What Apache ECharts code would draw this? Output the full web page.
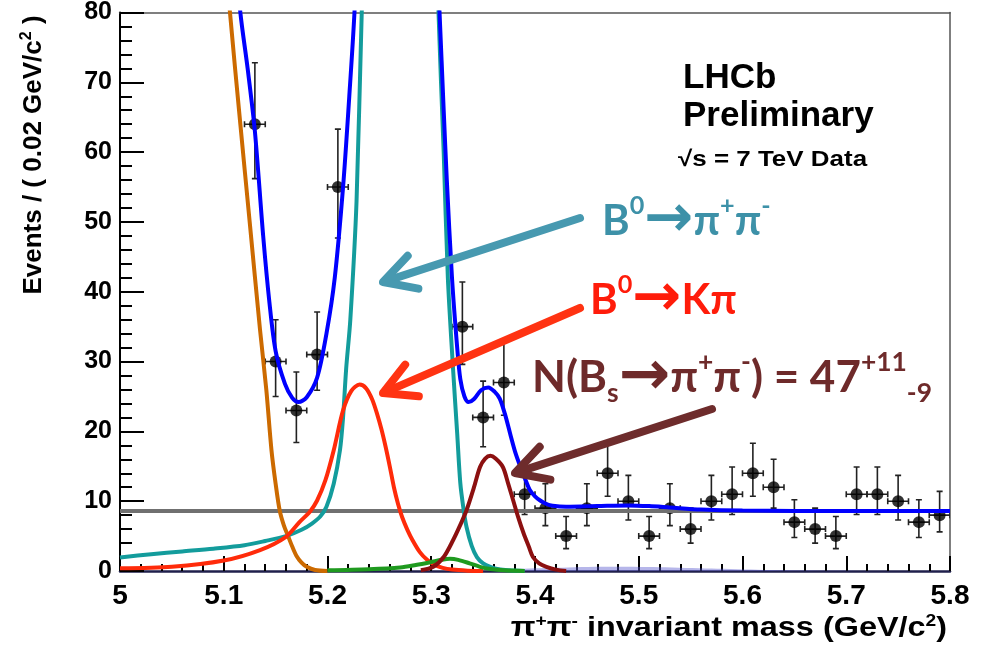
<!DOCTYPE html>
<html>
<head>
<meta charset="utf-8">
<title>pi+pi- invariant mass</title>
<script src="https://cdn.jsdelivr.net/npm/echarts@6/dist/echarts.min.js"></script>
<style>
  html, body { margin: 0; padding: 0; background: #fff; }
  #chart { width: 987px; height: 645px; }
</style>
</head>
<body>
<div id="chart"></div>
<script>
// data points: bin centres (GeV/c^2), counts and poisson errors
const binCenters = [5.13, 5.15, 5.17, 5.19, 5.21, 5.33, 5.35, 5.37, 5.39, 5.41,
                    5.43, 5.45, 5.47, 5.49, 5.51, 5.53, 5.55, 5.57, 5.59, 5.61,
                    5.63, 5.65, 5.67, 5.69, 5.71, 5.73, 5.75, 5.77, 5.79];
const counts  = [64, 30, 23, 31, 55, 35, 22, 27, 11, 9, 5, 9, 14, 10, 5, 9, 6, 10, 11, 14, 12, 7, 6, 5, 11, 11, 10, 7, 8];
const errUp   = [8.8, 6.0, 5.5, 6.1, 8.3, 6.4, 5.2, 5.7, 3.9, 3.5, 2.8, 3.5, 4.3, 3.7, 2.8, 3.5, 3.0, 3.7, 3.9, 4.3, 4.0, 3.2, 3.0, 2.8, 3.9, 3.9, 3.7, 3.2, 3.4];
const errDown = [7.8, 5.0, 4.6, 5.1, 7.3, 5.4, 4.2, 4.7, 2.9, 2.5, 1.8, 2.5, 3.3, 2.7, 1.8, 2.5, 2.0, 2.7, 2.9, 3.3, 3.0, 2.2, 2.0, 1.8, 2.9, 2.9, 2.7, 2.2, 2.4];
const binHalfWidth = 0.01;

// fit curves, [mass, events] (values above 80 are clipped by the frame)
const totalFit = [[5.100, 105], [5.116, 80], [5.123, 72], [5.130, 63], [5.138, 48], [5.144, 38.5],
  [5.150, 31.5], [5.159, 26.8], [5.166, 24.8], [5.172, 24.2], [5.180, 24.9], [5.190, 27.7],
  [5.199, 34], [5.207, 42], [5.215, 55], [5.221, 68], [5.226, 80], [5.232, 100], [5.300, 100],
  [5.305, 90], [5.308, 80], [5.312, 66], [5.315, 56], [5.320, 42], [5.325, 32], [5.328, 27.5],
  [5.332, 25], [5.336, 24.2], [5.341, 24.6], [5.348, 25.9], [5.355, 26.3], [5.361, 25.7],
  [5.366, 24.7], [5.371, 22.5], [5.376, 19.7], [5.381, 17], [5.386, 14.9], [5.391, 13],
  [5.395, 11.6], [5.400, 10.7], [5.405, 10.1], [5.411, 9.6], [5.417, 9.35], [5.43, 9.2],
  [5.46, 9.3], [5.49, 9.4], [5.51, 9.3], [5.53, 9.1], [5.56, 8.8], [5.60, 8.65], [5.70, 8.6], [5.80, 8.6]];
const partRecoFit = [[5.095, 100], [5.106, 80], [5.116, 64], [5.125, 50], [5.135, 34.5], [5.141, 26],
  [5.146, 17.3], [5.150, 12.5], [5.154, 8.6], [5.158, 6.5], [5.162, 5.0], [5.166, 3.5],
  [5.170, 2.2], [5.175, 1.2], [5.180, 0.6], [5.188, 0.15], [5.200, 0]];
const bdPiPiFit = [[5.00, 1.95], [5.03, 2.4], [5.06, 2.8], [5.09, 3.2], [5.12, 3.7], [5.14, 4.3],
  [5.16, 5.0], [5.175, 5.9], [5.185, 6.8], [5.193, 7.8], [5.199, 9.2], [5.206, 12.5], [5.212, 17.3],
  [5.215, 22], [5.218, 29], [5.222, 36], [5.228, 53], [5.233, 80], [5.238, 100], [5.300, 100],
  [5.305, 95], [5.307, 80], [5.312, 60], [5.316, 42], [5.321, 29], [5.325, 19.7], [5.328, 12.6],
  [5.331, 9], [5.334, 6.3], [5.339, 3.6], [5.344, 2.0], [5.350, 1.1], [5.357, 0.6], [5.365, 0.25],
  [5.375, 0.1], [5.390, 0]];
const bdKPiFit = [[5.00, 0.38], [5.05, 0.6], [5.10, 1.5], [5.135, 3.0], [5.16, 4.9], [5.173, 7.0],
  [5.183, 8.5], [5.19, 10.1], [5.198, 13], [5.206, 17.3], [5.215, 23], [5.223, 25.8], [5.231, 26.7],
  [5.237, 26.2], [5.243, 24.6], [5.248, 22.4], [5.252, 20.3], [5.256, 17.8], [5.260, 15.0],
  [5.264, 12.0], [5.268, 9.6], [5.272, 7.7], [5.277, 5.9], [5.282, 4.4], [5.289, 2.7], [5.296, 1.6],
  [5.303, 0.9], [5.311, 0.45], [5.320, 0.2], [5.335, 0.05], [5.350, 0]];
const bsPiPiFit = [[5.29, 0.1], [5.302, 0.6], [5.312, 2.0], [5.321, 4.4], [5.328, 6.6], [5.334, 8.7],
  [5.341, 11.9], [5.347, 14.9], [5.352, 16.1], [5.357, 16.5], [5.362, 16.1], [5.369, 14.9],
  [5.374, 12.6], [5.379, 10.1], [5.384, 7.6], [5.389, 5.4], [5.394, 3.5], [5.398, 2.0],
  [5.404, 1.1], [5.411, 0.6], [5.42, 0.2], [5.43, 0]];
const otherFit = [[5.20, 0.1], [5.24, 0.25], [5.27, 0.5], [5.285, 0.85], [5.299, 1.25], [5.31, 1.6],
  [5.318, 1.75], [5.326, 1.6], [5.337, 1.1], [5.347, 0.6], [5.357, 0.3], [5.37, 0.1], [5.39, 0]];
const threeBodyFit = [[5.35, 0], [5.38, 0.25], [5.42, 0.45], [5.47, 0.6], [5.52, 0.55], [5.57, 0.35],
  [5.62, 0.15], [5.68, 0.05], [5.80, 0]];
const combFit = [[5.0, 8.6], [5.8, 8.6]];

const xTicks = { min: 5, max: 5.8, step: 0.1 };
const yTicks = { min: 0, max: 80, step: 10 };

const chart = echarts.init(document.getElementById('chart'));

function curve(data, color, extra) {
    return Object.assign({
        type: 'line',
        data: data,
        symbol: 'none',
        smooth: 0.3,
        clip: true,
        silent: true,
        lineStyle: { color: color, width: 4 }
    }, extra || {});
}

// open chevron arrow: shaft + head
function arrow(tail, tip, color) {
    const dx = tail[0] - tip[0], dy = tail[1] - tip[1];
    const len = Math.hypot(dx, dy);
    const ux = dx / len, uy = dy / len;
    const head = 36, a = 0.5;
    const arm = (ang) => [
        tip[0] + head * (ux * Math.cos(ang) - uy * Math.sin(ang)),
        tip[1] + head * (ux * Math.sin(ang) + uy * Math.cos(ang))
    ];
    return [
        { type: 'line', z: 100, shape: { x1: tail[0], y1: tail[1], x2: tip[0] + ux * 3, y2: tip[1] + uy * 3 },
          style: { stroke: color, lineWidth: 8, lineCap: 'round' } },
        { type: 'polyline', z: 100, shape: { points: [arm(a), tip, arm(-a)] },
          style: { stroke: color, lineWidth: 8, lineCap: 'round', lineJoin: 'round', fill: 'none' } }
    ];
}

function richFor(color, size) {
    const base = { fontFamily: 'Lato', fontWeight: 'bold', fill: color };
    return {
        sup: Object.assign({ fontSize: size * 0.6, lineHeight: size * 0.55, verticalAlign: 'top' }, base),
        sub: Object.assign({ fontSize: size * 0.6, lineHeight: size * 0.55, verticalAlign: 'bottom' }, base),
        arr: Object.assign({}, base, { fontFamily: 'DejaVu Sans', fontSize: size * 1.4, lineHeight: size * 1.3 })
    };
}

function label(x, y, text, color, size) {
    return {
        type: 'text', z: 100, x: x, y: y,
        style: {
            text: text, fill: color, fontFamily: 'Lato', fontWeight: 'bold',
            fontSize: size, lineHeight: size * 1.3, align: 'left', verticalAlign: 'middle',
            rich: richFor(color, size)
        }
    };
}

const teal = '#3d91a8', red = '#ff1c0a', brown = '#6e2a2a';
const axisFont = 'Liberation Sans';
const supStyle = { fontFamily: axisFont, fontWeight: 'bold', fontSize: 16, lineHeight: 14, verticalAlign: 'top', fill: '#000' };

const option = {
    animation: false,
    backgroundColor: '#fff',
    grid: { left: 120, right: 37, top: 10, bottom: 74 },
    xAxis: [{
        type: 'value', min: xTicks.min, max: xTicks.max, interval: xTicks.step,
        axisLine: { show: true, onZero: false, lineStyle: { color: '#20204c', width: 2.5 } },
        axisTick: { show: true, inside: true, length: 15, lineStyle: { color: '#000', width: 2 } },
        minorTick: { show: true, splitNumber: 5, length: 7, lineStyle: { color: '#000', width: 2 } },
        splitLine: { show: false },
        axisLabel: { margin: 11, fontSize: 28, fontWeight: 'bold', color: '#000', fontFamily: axisFont,
                     formatter: v => String(+v.toFixed(1)) }
    }, {
        type: 'value', position: 'top', min: xTicks.min, max: xTicks.max,
        axisLine: { show: true, onZero: false, lineStyle: { color: '#555', width: 1.5 } },
        axisTick: { show: false }, axisLabel: { show: false }, splitLine: { show: false }
    }],
    yAxis: [{
        type: 'value', min: yTicks.min, max: yTicks.max, interval: yTicks.step,
        axisLine: { show: true, lineStyle: { color: '#000', width: 2 } },
        axisTick: { show: true, inside: true, length: 24, lineStyle: { color: '#000', width: 2 } },
        minorTick: { show: true, splitNumber: 5, length: 12, lineStyle: { color: '#000', width: 2 } },
        splitLine: { show: false },
        axisLabel: { margin: 8, fontSize: 25, fontWeight: 'bold', color: '#000', fontFamily: axisFont }
    }, {
        type: 'value', position: 'right', min: yTicks.min, max: yTicks.max,
        axisLine: { show: true, lineStyle: { color: '#555', width: 1.5 } },
        axisTick: { show: false }, axisLabel: { show: false }, splitLine: { show: false }
    }],
    series: [
        curve(threeBodyFit, 'rgba(70,70,200,0.6)', { lineStyle: { width: 0 }, areaStyle: { color: 'rgba(80,80,205,0.6)' } }),
        curve(combFit, '#707070', { smooth: false }),
        curve(partRecoFit, '#cc6a00'),
        curve(bdPiPiFit, '#139c9c'),
        curve(bdKPiFit, '#ff2b0a'),
        curve(otherFit, '#1f9a1f'),
        curve(bsPiPiFit, '#8c1010'),
        curve(totalFit, '#0000ff'),
        {
            type: 'custom',
            silent: true,
            clip: true,
            data: binCenters.map((x, i) => [x, counts[i], errUp[i], errDown[i]]),
            encode: { x: 0, y: 1 },
            renderItem: function (params, api) {
                const x = api.value(0), y = api.value(1);
                const top = api.coord([x, y + api.value(2)]);
                const bot = api.coord([x, y - api.value(3)]);
                const lft = api.coord([x - binHalfWidth, y]);
                const rgt = api.coord([x + binHalfWidth, y]);
                const st = { stroke: '#222', lineWidth: 1.6 };
                const seg = (x1, y1, x2, y2) => ({ type: 'line', shape: { x1, y1, x2, y2 }, style: st });
                return {
                    type: 'group',
                    children: [
                        seg(top[0], top[1], bot[0], bot[1]),
                        seg(top[0] - 3, top[1], top[0] + 3, top[1]),
                        seg(bot[0] - 3, bot[1], bot[0] + 3, bot[1]),
                        seg(lft[0], lft[1], rgt[0], rgt[1]),
                        seg(lft[0], lft[1] - 3, lft[0], lft[1] + 3),
                        seg(rgt[0], rgt[1] - 3, rgt[0], rgt[1] + 3)
                    ]
                };
            }
        },
        {
            type: 'scatter',
            silent: true,
            data: binCenters.map((x, i) => [x, counts[i]]),
            symbol: 'circle',
            symbolSize: 12,
            itemStyle: { color: '#000' }
        }
    ],
    graphic: [
        {
            type: 'text', x: 34, y: 155, rotation: Math.PI / 2, z: 100,
            style: {
                text: 'Events / ( 0.02 GeV/c{sup|2} )', fill: '#000', fontFamily: axisFont,
                fontWeight: 'bold', fontSize: 26, lineHeight: 30, align: 'center', verticalAlign: 'middle',
                rich: { sup: supStyle }
            }
        },
        {
            type: 'text', x: 947, y: 629, z: 100, scaleX: 1.2,
            style: {
                text: 'π{sup|+}π{sup|-} invariant mass (GeV/c{sup|2})', fill: '#000', fontFamily: axisFont,
                fontWeight: 'bold', fontSize: 27, lineHeight: 30, align: 'right', verticalAlign: 'middle',
                rich: { sup: supStyle }
            }
        },
        { type: 'text', x: 683, y: 78, z: 100,
          style: { text: 'LHCb', fill: '#000', fontFamily: axisFont, fontWeight: 'bold', fontSize: 35, verticalAlign: 'middle' } },
        { type: 'text', x: 683, y: 116, z: 100,
          style: { text: 'Preliminary', fill: '#000', fontFamily: axisFont, fontWeight: 'bold', fontSize: 35, verticalAlign: 'middle' } },
        { type: 'text', x: 678, y: 160, z: 100, scaleX: 1.18,
          style: { text: '√s = 7 TeV Data', fill: '#000', fontFamily: axisFont, fontWeight: 'bold', fontSize: 22, verticalAlign: 'middle' } },
        label(602, 221, 'B{sup|0}{arr|→}π{sup|+}π{sup|-}', teal, 42),
        label(590, 300, 'B{sup|0}{arr|→}Kπ', red, 42),
        label(532, 378, 'N(B{sub|s}{arr|→}π{sup|+}π{sup|-}) = 47{sup|+11}{sub|-9}', brown, 44)
    ].concat(
        arrow([580, 218], [383, 282], '#4799b0'),
        arrow([580, 308], [383, 393], '#ff3312'),
        arrow([712, 409], [515, 473], '#6e2c2c')
    )
};

chart.setOption(option);
</script>
</body>
</html>
